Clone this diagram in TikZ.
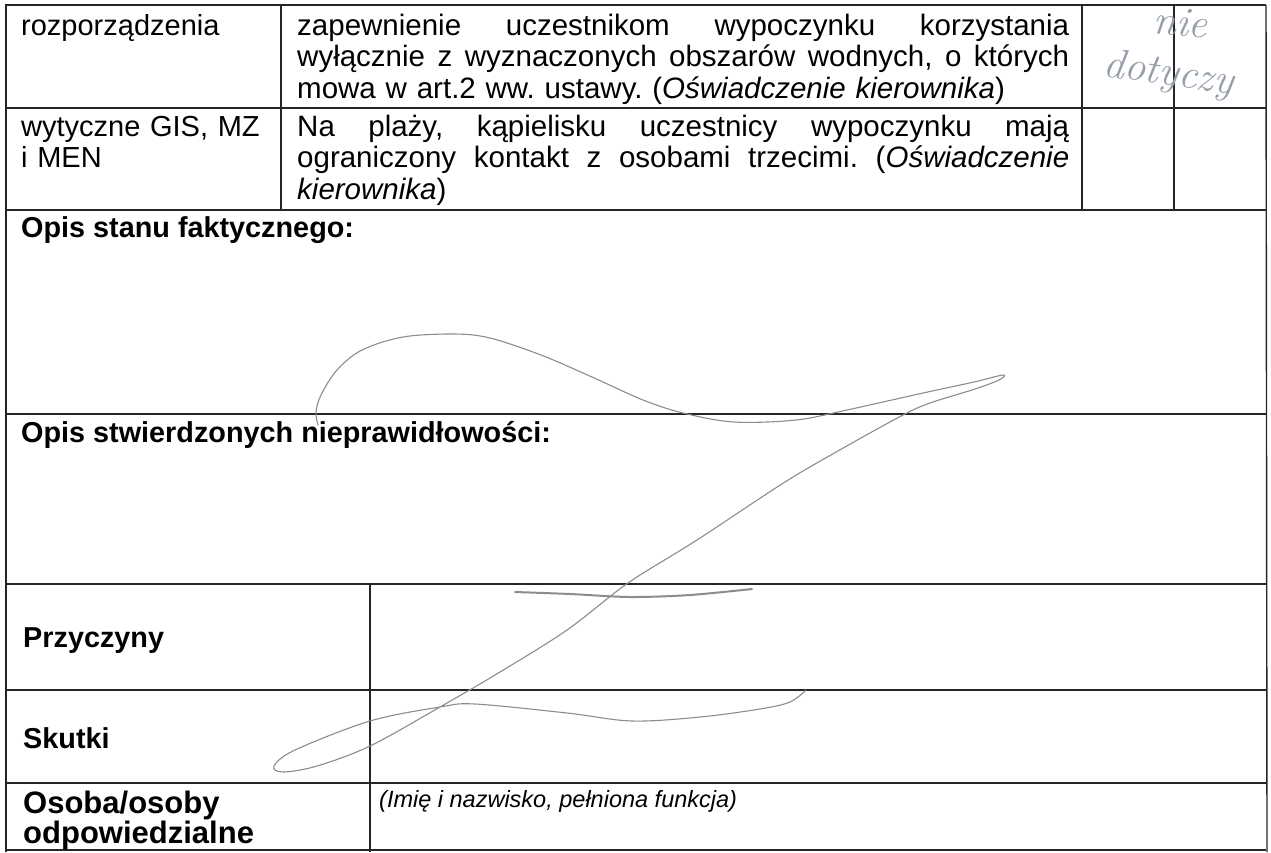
\documentclass[tikz,border=0pt]{standalone}
\usepackage{fontspec}
\setsansfont{Liberation Sans}
\usepackage{tikz}
\usetikzlibrary{positioning}
\definecolor{ink}{RGB}{140,140,140}
\definecolor{pen}{RGB}{150,158,170}
\newcommand{\fullline}[1]{\leavevmode\hbox to 772pt{#1}\\}
\frenchspacing

\begin{document}
\begin{tikzpicture}[x=1pt,y=-1pt,
    rule/.style={line width=1.4pt,black!85},
    body/.style={anchor=base west,inner sep=0pt,align=left,font=\sffamily\fontsize{29}{31.5}\selectfont},
    wide/.style={body,text width=772pt,font=\sffamily\fontsize{29.5}{31.5}\selectfont},
    head/.style={body,font=\sffamily\bfseries\fontsize{28.8}{30}\selectfont},
    hint/.style={body,font=\sffamily\itshape\fontsize{23.5}{26}\selectfont},
    hand/.style={anchor=base west,inner sep=0pt,text=pen,font=\itshape\fontsize{42}{42}\selectfont},
    scribble/.style={draw=ink,line width=1.1pt,line cap=round,line join=round}]
\useasboundingbox (0,0) rectangle (1271,852);
\clip (0,0) rectangle (1271,852);

% table rules
\draw[rule] (5,5) -- (1266,5);
\draw[rule] (6,5) -- (6,852);
\draw[rule] (1266,5) -- (1267,852);
\foreach \y in {108,210,414,584,690,783,850}
  \draw[rule] (6,\y) -- (1266,\y);
\foreach \x in {281,1082,1174}
  \draw[rule] (\x,5) -- (\x,210);
\draw[rule] (370,584) -- (370,852);

% upper rows
\node[body] (reg) at (21,35) {rozporządzenia};
\node[wide] (req) at (297,35) {\fullline{zapewnienie\hfill uczestnikom\hfill wypoczynku\hfill korzystania}\fullline{wyłącznie\hfill z\hfill wyznaczonych\hfill obszarów\hfill wodnych,\hfill o\hfill których}mowa w art.2 ww. ustawy. (\textit{Oświadczenie kierownika})};
\node[body,text width=250pt] (guide) at (21,136) {wytyczne GIS, MZ\\i MEN};
\node[wide] (fact) at (297,136) {\fullline{Na\hfill plaży,\hfill kąpielisku\hfill uczestnicy\hfill wypoczynku\hfill mają}\fullline{ograniczony\hfill kontakt\hfill z\hfill osobami\hfill trzecimi.\hfill (\textit{Oświadczenie}}\textit{kierownika})};

% headings
\node[head] (stan) at (21,237) {Opis stanu faktycznego:};
\node[head] (wady) at (21,442) {Opis stwierdzonych nieprawidłowości:};
\node[head] (przyczyny) at (23,647) {Przyczyny};
\node[head] (skutki) at (23,748) {Skutki};
\node[head,text width=340pt,font=\sffamily\bfseries\fontsize{31}{30}\selectfont] (osoby) at (23,813) {Osoba/osoby\\odpowiedzialne};
\node[hint] (imie) at (379,807) {(Imię i nazwisko, pełniona funkcja)};

% handwriting
\node[hand,rotate=-5] (nie) at (1152,33) {nie};
\node[hand,rotate=-8] (dotyczy) at (1102,76) {dotyczy};

% crossing-out strokes
\draw[scribble] plot[smooth,tension=0.55] coordinates {(318,425) (316,412) (321,395) (337,370) (362,350) (403,337) (454,334) (490,338) (541,355) (592,377) (643,400) (683,413) (734,422) (796,420) (847,410) (923,393) (974,382) (1003,375) (999,380) (975,389) (930,403) (903,415) (845,447) (785,482) (697,540) (628,583) (567,630) (500,672) (440,707) (370,746) (317,766) (283,772) (274,766) (295,750) (370,721) (440,707) (475,704) (567,713) (632,721) (700,717) (760,709) (790,702) (806,690)};
\draw[scribble,line width=2pt] plot[smooth] coordinates {(515,592) (570,594) (630,597) (690,595) (752,589)};
\end{tikzpicture}
\end{document}
